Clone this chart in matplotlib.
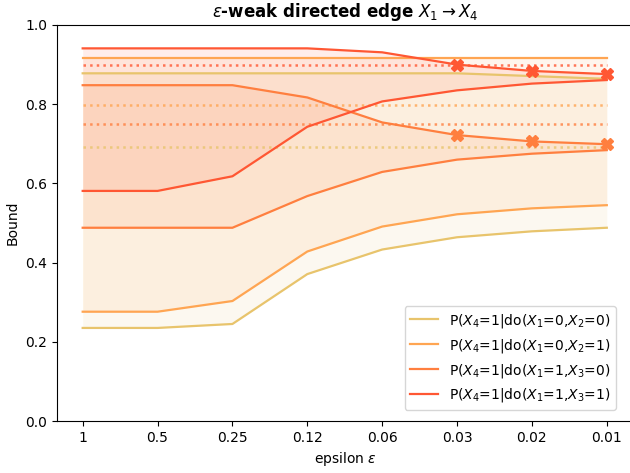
import numpy as np
import matplotlib
matplotlib.use('Agg')
import matplotlib.pyplot as plt

# epsilon values on the x axis (drawn as categories)
eps_labels = ['1', '0.5', '0.25', '0.12', '0.06', '0.03', '0.02', '0.01']

series_names = [r'P($X_4$=1|do($X_1$=0,$X_2$=0)',
                r'P($X_4$=1|do($X_1$=0,$X_2$=1)',
                r'P($X_4$=1|do($X_1$=1,$X_3$=0)',
                r'P($X_4$=1|do($X_1$=1,$X_3$=1)']

lower_00 = [0.235, 0.235, 0.245, 0.371, 0.433, 0.464, 0.479, 0.488]
upper_00 = [0.878, 0.878, 0.878, 0.878, 0.878, 0.878, 0.871, 0.864]
true_00 = 0.691

lower_01 = [0.276, 0.276, 0.303, 0.428, 0.491, 0.522, 0.537, 0.545]
upper_01 = [0.917, 0.917, 0.917, 0.917, 0.917, 0.917, 0.917, 0.917]
true_01 = 0.797

lower_10 = [0.488, 0.488, 0.488, 0.568, 0.629, 0.660, 0.675, 0.684]
upper_10 = [0.848, 0.848, 0.848, 0.817, 0.754, 0.722, 0.706, 0.699]
true_10 = 0.750

lower_11 = [0.581, 0.581, 0.618, 0.743, 0.807, 0.835, 0.852, 0.861]
upper_11 = [0.941, 0.941, 0.941, 0.941, 0.931, 0.900, 0.884, 0.876]
true_11 = 0.900

# points where the bound meets an observed value
marked_10 = [5, 6, 7]
marked_11 = [5, 6, 7]

colors = ['#e8c46c', '#ffa552', '#ff7f3f', '#ff5733']

lowers = [lower_00, lower_01, lower_10, lower_11]
uppers = [upper_00, upper_01, upper_10, upper_11]
trues = [true_00, true_01, true_10, true_11]
marks = [[], [], marked_10, marked_11]

x = np.arange(len(eps_labels))

fig = plt.figure(figsize=(6.3, 4.73), dpi=100)
# axes run a bit past the right edge, as in the original crop
ax = fig.add_axes([57/630, 1-421/473, 576/630, 396/473])

for i in range(4):
    c = colors[i]
    ax.fill_between(x, lowers[i], uppers[i], color=c, alpha=0.1, lw=0)
    ax.plot(x, lowers[i], color=c, lw=1.6, label=series_names[i])
    ax.plot(x, uppers[i], color=c, lw=1.6)
    ax.hlines(trues[i], x[0], x[-1], color=c, lw=1.8, linestyles=':', alpha=0.8)
    if marks[i]:
        ax.plot(x[marks[i]], np.array(uppers[i])[marks[i]], 'X', color=c, ms=8)

ax.set_xticks(x)
ax.set_xticklabels(eps_labels)
ax.set_xlim(-0.343, 7.35)
ax.set_ylim(0, 1)
ax.set_xlabel(r'epsilon $\varepsilon$')
ax.set_ylabel('Bound')
ax.set_title(r'$\varepsilon$-weak directed edge $X_1 \rightarrow X_4$', fontweight='bold')
ax.legend(loc='lower right', bbox_to_anchor=(616/630, 1-410/473),
          bbox_transform=fig.transFigure, borderaxespad=0)

plt.savefig('out.png', dpi=100)
